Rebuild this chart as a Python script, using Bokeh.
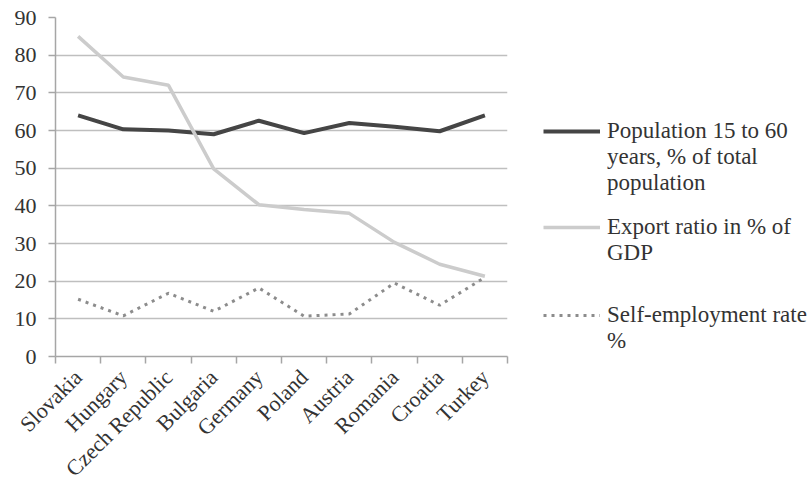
import numpy as np
from bokeh.plotting import figure
from bokeh.layouts import row
from bokeh.models import Range1d, FixedTicker, Legend, LegendItem
from bokeh.embed import file_html
from bokeh.resources import INLINE

countries = ["Slovakia", "Hungary", "Czech Republic", "Bulgaria", "Germany",
             "Poland", "Austria", "Romania", "Croatia", "Turkey"]
population_15_60 = [64.0, 60.3, 60.0, 59.0, 62.6, 59.3, 62.0, 61.0, 59.8, 64.0]
export_ratio = [85.0, 74.2, 72.0, 49.8, 40.3, 39.0, 38.0, 30.3, 24.5, 21.3]
self_employment = [15.2, 10.8, 16.8, 12.0, 18.2, 10.7, 11.3, 19.5, 13.6, 21.0]
y_ticks = [0, 10, 20, 30, 40, 50, 60, 70, 80, 90]
# legend text, one list of wrapped lines per series
legend_lines = [["Population 15 to 60", "years, % of total", "population"],
                ["Export ratio in % of", "GDP"],
                ["Self-employment rate", "%"]]

FONT = "Liberation Serif"
TXT = "#333333"
AX = "#a6a6a6"
STYLES = [dict(line_color="#454545", line_width=4),
          dict(line_color="#cccccc", line_width=3.5),
          dict(line_color="#8c8c8c", line_width=3, line_dash="3 5")]

n = len(countries)
x = [i + 0.5 for i in range(n)]
series = [population_15_60, export_ratio, self_employment]

p = figure(width=520, height=495, output_backend="svg", toolbar_location=None,
           x_range=Range1d(0, n), y_range=Range1d(0, y_ticks[-1]),
           min_border_left=55, min_border_right=13, min_border_top=17,
           min_border_bottom=139)
p.outline_line_color = None
p.background_fill_color = "white"
p.border_fill_color = "white"

p.xgrid.visible = False
p.ygrid.grid_line_color = "#bfbfbf"
p.ygrid.grid_line_width = 1.5

p.yaxis.ticker = FixedTicker(ticks=y_ticks)
p.yaxis.axis_line_color = AX
p.yaxis.axis_line_width = 1.5
p.yaxis.major_tick_line_color = AX
p.yaxis.major_tick_line_width = 1.5
p.yaxis.major_tick_out = 7
p.yaxis.major_tick_in = 0
p.yaxis.minor_tick_line_color = None
p.yaxis.major_label_standoff = 12
p.yaxis.major_label_text_font = FONT
p.yaxis.major_label_text_font_size = "22px"
p.yaxis.major_label_text_color = TXT

p.xaxis.ticker = FixedTicker(ticks=x, minor_ticks=list(range(n + 1)))
p.xaxis.major_label_overrides = {xi: c for xi, c in zip(x, countries)}
p.xaxis.axis_line_color = AX
p.xaxis.axis_line_width = 1.5
p.xaxis.major_tick_line_color = None
p.xaxis.major_tick_out = 0
p.xaxis.major_tick_in = 0
p.xaxis.minor_tick_line_color = AX
p.xaxis.minor_tick_line_width = 1.5
p.xaxis.minor_tick_out = 7
p.xaxis.minor_tick_in = 0
p.xaxis.major_label_orientation = np.pi / 4
p.xaxis.major_label_standoff = 10
p.xaxis.major_label_text_font = FONT
p.xaxis.major_label_text_font_size = "22px"
p.xaxis.major_label_text_color = TXT

for vals, s in zip(series, STYLES):
    p.line(x, vals, **s)

# legend panel to the right of the chart (its key lines fall outside its view)
q = figure(width=290, height=495, output_backend="svg", toolbar_location=None,
           x_range=Range1d(0, 1), y_range=Range1d(0, 1),
           x_axis_location=None, y_axis_location=None, min_border=0)
q.outline_line_color = None
q.background_fill_color = "white"
q.border_fill_color = "white"
q.xgrid.visible = False
q.ygrid.visible = False

keys = [q.line(x, vals, **s) for vals, s in zip(series, STYLES)]
blank = q.line(x, self_employment, line_alpha=0)

items = []
for k, (lines, r) in enumerate(zip(legend_lines, keys)):
    items.append(LegendItem(label=lines[0], renderers=[r]))
    for extra in lines[1:]:
        items.append(LegendItem(label=extra, renderers=[blank]))
    for _ in range([1, 2, 0][k]):
        items.append(LegendItem(label=" ", renderers=[blank]))

legend = Legend(items=items, location=(23, 2), padding=0, margin=0,
                spacing=-2, glyph_width=57, glyph_height=18, label_height=18,
                label_standoff=7,
                label_text_font=FONT, label_text_font_size="23px",
                label_text_color=TXT,
                background_fill_alpha=0, border_line_color=None)
q.add_layout(legend, "center")

open("out.html", "w").write(file_html(row(p, q), INLINE))
